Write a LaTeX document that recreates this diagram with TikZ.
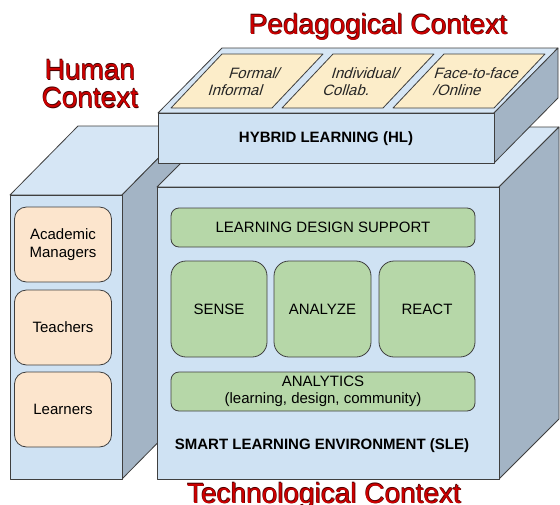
\documentclass[tikz,border=0pt]{standalone}
\usepackage{fontspec}
\setmainfont{Liberation Sans}
\newfontfamily\cardfont[FakeSlant=0.3]{Liberation Sans}

\definecolor{facebl}{HTML}{CFE2F3}
\definecolor{topbl}{HTML}{D6E6F5}
\definecolor{sidegr}{HTML}{A3B4C5}
\definecolor{edgegr}{HTML}{3F3F3F}
\definecolor{tanfill}{HTML}{FCEDC9}
\definecolor{peach}{HTML}{FCE5CD}
\definecolor{sagegreen}{HTML}{B6D7A8}
\definecolor{ctxred}{HTML}{CC0000}
\definecolor{ctxedge}{HTML}{4A0000}

% red context titles with a thin dark rim
\newcommand{\ctxword}[1]{\rlap{\color{ctxedge}\kern0.7pt\raisebox{-0.7pt}{#1}}\rlap{\color{ctxedge}\kern-0.4pt\raisebox{0.4pt}{#1}}{\color{ctxred}#1}}
% two staggered lines on the slanted cards
\newcommand{\cardlines}[2]{\makebox[0pt]{\kern19pt #1}\\\makebox[0pt]{\kern-19pt #2}}

\tikzset{
  face/.style={fill=facebl,draw=edgegr,line width=0.8pt,line join=round},
  topface/.style={fill=topbl,draw=edgegr,line width=0.8pt,line join=round},
  sideface/.style={fill=sidegr,draw=edgegr,line width=0.8pt,line join=round},
  tanbox/.style={fill=tanfill,draw=edgegr,line width=0.8pt,line join=round},
  cardtext/.style={align=center,text=black!85,font=\fontsize{15}{17}\selectfont\cardfont},
  peachbox/.style={fill=peach,draw=edgegr,line width=0.8pt,rounded corners=12pt,
    minimum width=97pt,minimum height=75pt,align=center,font=\fontsize{15}{18}\selectfont},
  greenbox/.style={fill=sagegreen,draw=edgegr,line width=0.8pt,rounded corners=8pt,
    minimum width=304pt,minimum height=39pt,align=center,font=\fontsize{15}{17}\selectfont},
  bigbox/.style={greenbox,rounded corners=15pt,minimum width=96pt,minimum height=96pt},
  boldlabel/.style={font=\fontsize{15}{18}\selectfont\bfseries},
  ctxtitle/.style={align=center,inner sep=0pt,font=\fontsize{28}{28}\selectfont},
}

\begin{document}
\begin{tikzpicture}[x=1pt,y=-1pt]
  \useasboundingbox (0,0) rectangle (560,504);
  \fill[white] (0,0) rectangle (560,504);

  % human block
  \filldraw[topface] (10,195) -- (78,126) -- (190,126) -- (122,195) -- cycle;
  \filldraw[sideface] (122,195) -- (190,126) -- (190,410) -- (122,479) -- cycle;
  \filldraw[face] (10,195) rectangle (122,479);

  % smart learning environment block
  \filldraw[topface] (157,187) -- (217,127) -- (559,127) -- (499,187) -- cycle;
  \filldraw[sideface] (499,187) -- (559,127) -- (559,419) -- (499,479) -- cycle;
  \filldraw[face] (157,187) rectangle (499,479);

  % hybrid learning slab on top
  \filldraw[topface] (158,113) -- (222,48) -- (558,48) -- (494,113) -- cycle;
  \filldraw[sideface] (494,113) -- (558,48) -- (558,98) -- (494,163) -- cycle;
  \filldraw[face] (158,113) rectangle (494,163);

  \foreach \i in {0,1,2}
    \filldraw[tanbox] ({171+111*\i},108) -- ++(101,0) -- ++(51,-54) -- ++(-101,0) -- cycle;

  \node[cardtext] (formal) at (244,82) {\cardlines{Formal/}{Informal}};
  \node[cardtext] (collab) at (355,82) {\cardlines{Individual/}{Collab.}};
  \node[cardtext] (online) at (466,82) {\cardlines{Face-to-face}{/Online}};
  \node[boldlabel] (hl) at (326,139) {HYBRID LEARNING (HL)};

  % actors
  \node[peachbox] (managers) at (63,244.5) {Academic\\Managers};
  \node[peachbox] (teachers) at (63,327.5) {Teachers};
  \node[peachbox] (learners) at (63,409.5) {Learners};

  % SLE components
  \node[greenbox] (lds) at (323,227.5) {LEARNING DESIGN SUPPORT};
  \node[bigbox] (sense) at (219,309) {SENSE};
  \node[bigbox,minimum width=97pt] (analyze) at (322.5,309) {ANALYZE};
  \node[bigbox] (react) at (427,309) {REACT};
  \node[greenbox] (analytics) at (323,391.5) {ANALYTICS\\(learning, design, community)};
  \node[boldlabel] (sle) at (322,446) {SMART LEARNING ENVIRONMENT (SLE)};

  % context titles
  \node[ctxtitle,anchor=base] (ped) at (378,34) {\ctxword{Pedagogical Context}};
  \node[ctxtitle] (human) at (90,84) {\ctxword{Human}\\\ctxword{Context}};
  \node[ctxtitle,anchor=base] (tech) at (324,503) {\ctxword{Technological Context}};
\end{tikzpicture}
\end{document}
